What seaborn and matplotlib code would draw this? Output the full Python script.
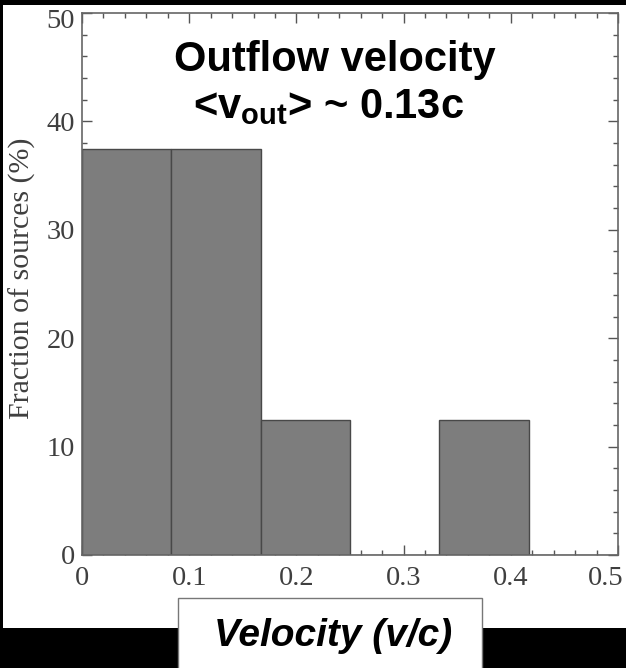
import matplotlib
matplotlib.use("Agg")
import matplotlib.pyplot as plt
import matplotlib.transforms as mtransforms
import seaborn as sns
import numpy as np
from matplotlib.patches import Rectangle
from matplotlib.ticker import MultipleLocator

# ---- data ----
bin_edges = [0.0, 0.0833, 0.1667, 0.25, 0.3333, 0.4167, 0.5]
bin_centers = [0.0417, 0.125, 0.2083, 0.2917, 0.375, 0.4583]
fraction_pct = [37.5, 37.5, 12.5, 0.0, 12.5, 0.0]
x_ticks = [0, 0.1, 0.2, 0.3, 0.4, 0.5]
x_tick_labels = ["0", "0.1", "0.2", "0.3", "0.4", "0.5"]
y_ticks = [0, 10, 20, 30, 40, 50]
title_line1 = "Outflow velocity"
title_line2 = r"<v$_\mathrm{out}$> ~ 0.13c"
x_label = "Velocity (v/c)"
y_label = "Fraction of sources (%)"

sns.set_theme(style="white")
plt.rcParams["font.family"] = ["Liberation Serif", "DejaVu Serif"]
plt.rcParams["mathtext.fontset"] = "custom"
plt.rcParams["mathtext.rm"] = "Liberation Sans:bold"
plt.rcParams["mathtext.it"] = "Liberation Sans:bold:italic"
plt.rcParams["mathtext.bf"] = "Liberation Sans:bold"

W, H = 626, 668
fig = plt.figure(figsize=(W / 100, H / 100), dpi=100, facecolor="black")

# white panel (behind axes)
fig.patches.append(Rectangle((3 / W, 1 - 628 / H), (W - 3) / W, (628 - 5) / H,
                             transform=fig.transFigure, facecolor="white",
                             edgecolor="none", zorder=-10))

ax = fig.add_axes([82 / W, 1 - 555 / H, (618 - 82) / W, (555 - 13) / H])
ax.set_facecolor("white")
ax.set_zorder(1)

sns.histplot(x=bin_centers, weights=fraction_pct, bins=bin_edges, ax=ax,
             color="#7d7d7d", edgecolor="#484848", linewidth=1.0, alpha=1.0)

ax.set_xlim(0, 0.5)
ax.set_ylim(0, 50)
ax.set_xticks(x_ticks)
ax.set_xticklabels(x_tick_labels)
ax.set_yticks(y_ticks)
ax.xaxis.set_minor_locator(MultipleLocator(0.02))
ax.yaxis.set_minor_locator(MultipleLocator(2))
ax.tick_params(which="both", direction="in", top=True, right=True,
               bottom=True, left=True, color="#555555", width=1.0)
ax.tick_params(which="major", length=7)
ax.tick_params(which="minor", length=3.5)
ax.tick_params(axis="x", which="major", labelsize=20.5, pad=8, labelcolor="#3f3f3f")
ax.tick_params(axis="y", which="major", labelsize=20.5, pad=5, labelcolor="#3f3f3f")
for s in ax.spines.values():
    s.set_color("#666666")
    s.set_linewidth(1.2)
    s.set_visible(True)

# nudge the last x tick label so it stays inside the picture, and the top y label down
xlabels = ax.get_xticklabels()
xlabels[-1].set_transform(xlabels[-1].get_transform() +
                          mtransforms.ScaledTranslation(-12 / 100, 0, fig.dpi_scale_trans))
ylabels = ax.get_yticklabels()
ylabels[-1].set_transform(ylabels[-1].get_transform() +
                          mtransforms.ScaledTranslation(0, -5 / 100, fig.dpi_scale_trans))

ax.set_xlabel("")
ax.set_ylabel("")
fig.text(22 / W, 1 - 278 / H, y_label, rotation=90, ha="center", va="center",
         fontsize=21.5, color="#3f3f3f")

# in-plot title
sans_bold = ["Liberation Sans", "DejaVu Sans"]
fig.text(335 / W, 1 - 60 / H, title_line1, ha="center", va="center",
         fontsize=30, fontweight="bold", family=sans_bold, color="black", zorder=5)
fig.text(328 / W, 1 - 107 / H, title_line2, ha="center", va="center",
         fontsize=30, fontweight="bold", family=sans_bold, color="black", zorder=5)

# x-label box
fig.patches.append(Rectangle((178 / W, 1 - 672 / H), (482 - 178) / W, (672 - 598) / H,
                             transform=fig.transFigure, facecolor="white",
                             edgecolor="#777777", linewidth=1.0, zorder=2))
fig.text(333 / W, 1 - 636 / H, x_label, ha="center", va="center",
         fontsize=28, fontweight="bold", style="italic", family=sans_bold,
         color="black", zorder=3)

fig.savefig("out.png", dpi=100, facecolor="black")
